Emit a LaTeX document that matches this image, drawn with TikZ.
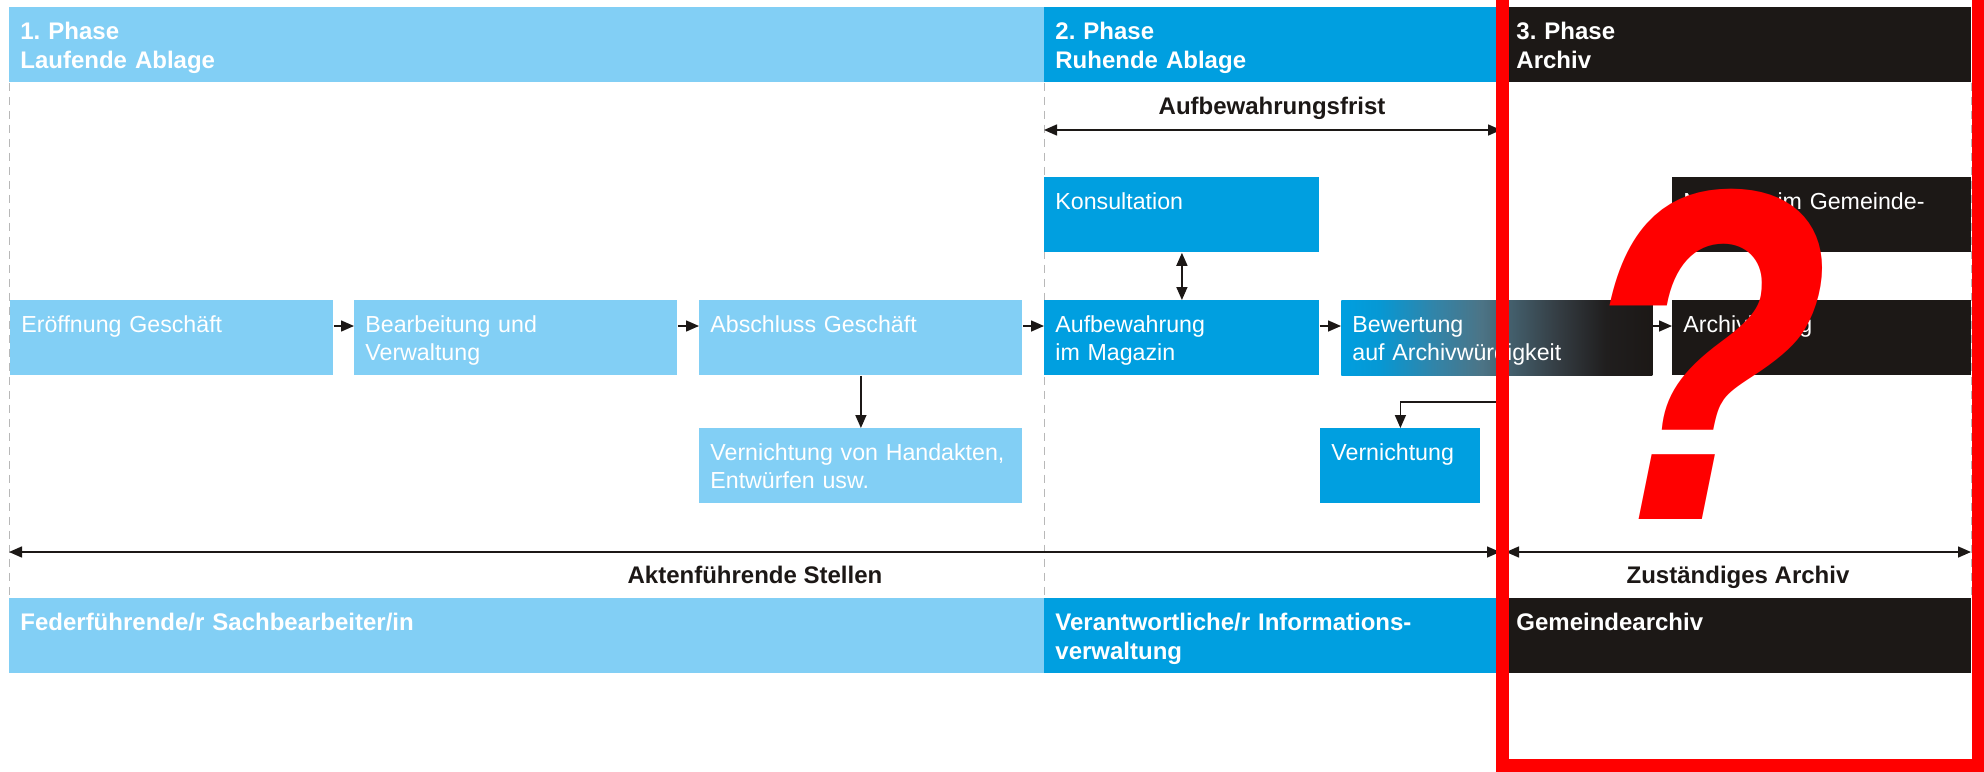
\documentclass[tikz,border=0pt]{standalone}
\usepackage{fontspec}
\setmainfont{Liberation Sans}
\newfontfamily\qmfont[FakeStretch=0.95]{TeX Gyre Heros}
\usetikzlibrary{arrows.meta}
\definecolor{lblue}{RGB}{130,207,245}
\definecolor{mblue}{RGB}{0,159,224}
\definecolor{dark}{RGB}{28,24,22}
\definecolor{qred}{RGB}{255,0,0}
\definecolor{bwb}{RGB}{6,152,212}
\definecolor{bwc}{RGB}{50,132,168}
\definecolor{bwd}{RGB}{76,116,134}
\definecolor{bwe}{RGB}{52,60,66}
\definecolor{bwf}{RGB}{32,30,30}
\pgfdeclarehorizontalshading{bewshade}{100bp}{color(0bp)=(mblue); color(25bp)=(mblue); color(31bp)=(bwb); color(40bp)=(bwc); color(47.5bp)=(bwd); color(60bp)=(bwe); color(67.5bp)=(bwf); color(75bp)=(dark); color(100bp)=(dark)}
\frenchspacing
\begin{document}
\begin{tikzpicture}[x=0.5pt,y=-0.5pt,
  band/.style={anchor=north west, inner xsep=5.5pt, inner ysep=0pt, text height=16pt, text depth=21.5pt, text=white, font=\fontsize{12pt}{14.5pt}\selectfont\bfseries},
  fbox/.style={anchor=north west, inner xsep=5.5pt, inner ysep=0pt, text height=16pt, text depth=21.5pt, text=white, font=\fontsize{11.6pt}{14pt}\selectfont},
  lbl/.style={anchor=base, inner sep=0pt, text=dark, font=\fontsize{12pt}{14pt}\selectfont\bfseries},
  arr/.style={draw=dark, line width=0.75pt, -{Triangle[length=6.5pt,width=5.5pt]}},
  darr/.style={draw=dark, line width=0.75pt, {Triangle[length=6.5pt,width=5.5pt]}-{Triangle[length=6.5pt,width=5.5pt]}},
  phline/.style={draw=black!28, line width=0.5pt, dash pattern=on 4pt off 3pt},
  frame/.style={draw=qred, line width=6.5pt, line join=miter}
]
\useasboundingbox (0,0) rectangle (1984,771);
\fill[white] (0,0) rectangle (1984,771);

% phase header bands
\node[band, fill=lblue, text width=506.5pt] (ph1) at (9,7) {1. Phase\\Laufende Ablage};
\node[band, fill=mblue, text width=219.5pt] (ph2) at (1044,7) {2. Phase\\Ruhende Ablage};
\node[band, fill=dark, text width=222pt] (ph3) at (1505,7) {3. Phase\\Archiv};

% bottom bands
\node[band, fill=lblue, text width=506.5pt] (r1) at (9,598) {Federführende/r Sachbearbeiter/in};
\node[band, fill=mblue, text width=219.5pt] (r2) at (1044,598) {Verantwortliche/r Informations-\\verwaltung};
\node[band, fill=dark, text width=222pt] (r3) at (1505,598) {Gemeindearchiv};

% dashed phase borders
\draw[phline] (ph1.south west) -- (r1.north west);
\draw[phline] (ph2.south west) -- (r2.north west);
\draw[phline] (ph3.south west) -- (r3.north west);
\draw[phline] (ph3.south east) -- (r3.north east);

% boxes
\node[fbox, fill=lblue, text width=150.5pt] (eroef) at (10,300) {Eröffnung Geschäft};
\node[fbox, fill=lblue, text width=150.5pt] (bearb) at (354,300) {Bearbeitung und\\Verwaltung};
\node[fbox, fill=lblue, text width=150.5pt] (abschl) at (699,300) {Abschluss Geschäft};
\node[fbox, fill=lblue, text width=150.5pt] (vern1) at (699,428) {Vernichtung von Handakten,\\Entwürfen usw.};
\node[fbox, fill=mblue, text width=126.5pt] (kons) at (1044,177) {Konsultation};
\node[fbox, fill=mblue, text width=126.5pt] (aufb) at (1044,300) {Aufbewahrung\\im Magazin};
\node[fbox, shade, shading=bewshade, text width=144.5pt] (bew) at (1341,300) {Bewertung\\auf Archivwürdigkeit};
\node[fbox, fill=mblue, text width=69pt] (vern2) at (1320,428) {Vernichtung};
\node[fbox, fill=dark, text width=138.5pt] (nutz) at (1672,177) {Nutzung im Gemeinde-\\archiv};
\node[fbox, fill=dark, text width=138.5pt] (archv) at (1672,300) {Archivierung};

% connectors
\draw[arr] ([yshift=-13pt]eroef.north east) -- ([yshift=-13pt]bearb.north west);
\draw[arr] ([yshift=-13pt]bearb.north east) -- ([yshift=-13pt]abschl.north west);
\draw[arr] ([yshift=-13pt]abschl.north east) -- ([yshift=-13pt]aufb.north west);
\draw[arr] ([yshift=-13pt]aufb.north east) -- ([yshift=-13pt]bew.north west);
\draw[arr] ([yshift=-13pt]bew.north east) -- ([yshift=-13pt]archv.north west);
\draw[arr] (abschl.south) -- (vern1.north);
\draw[darr] (kons.south) -- (aufb.north);
\coordinate (vj) at (1502,402);
\draw[arr] (bew.south -| vj) -- (vj) -| (vern2.north);

% span arrows
\coordinate (afl) at (1044,130);
\coordinate (afr) at (1501,130);
\draw[darr] (afl) -- (afr);
\node[lbl] (aflab) at (1272,114) {Aufbewahrungsfrist};
\coordinate (al) at (9,552);
\coordinate (ar) at (1500,552);
\coordinate (zl) at (1506,552);
\coordinate (zr) at (1971,552);
\draw[darr] (al) -- (ar);
\draw[darr] (zl) -- (zr);
\node[lbl] (akt) at (755,583) {Aktenführende Stellen};
\node[lbl] (zust) at (1738,583) {Zuständiges Archiv};

% red overlay
\draw[frame] (1502,-20) -- (1502,765) -- (1978,765) -- (1978,-20);
\node[text=qred, inner sep=0pt, anchor=base, font=\qmfont\fontsize{222pt}{222pt}\selectfont\bfseries\itshape] (qm) at (1687,519) {?};
\end{tikzpicture}
\end{document}
